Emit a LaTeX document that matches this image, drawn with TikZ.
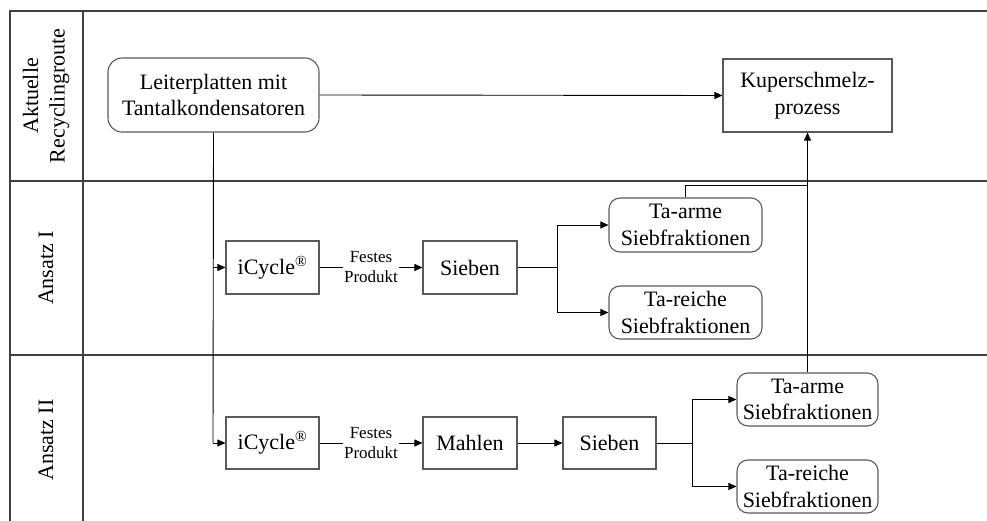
\documentclass[tikz,border=0pt]{standalone}
\usepackage{fontspec}
\setmainfont{Liberation Serif}
\usetikzlibrary{arrows.meta}
\definecolor{boxline}{HTML}{5A5A5A}
\definecolor{laneline}{HTML}{404040}
\tikzset{
  box/.style={draw=boxline, line width=1.1pt, fill=white, inner sep=0pt, align=center,
    font=\fontsize{22}{26.5}\selectfont},
  rbox/.style={box, rounded corners=11pt},
  lane/.style={draw=laneline, line width=1.6pt},
  conn/.style={draw=black, line width=0.9pt},
  arr/.style={conn, -{Triangle[length=8pt,width=7pt]}},
  lanelabel/.style={rotate=90, align=center, font=\fontsize{22}{26.5}\selectfont},
  small/.style={align=center, font=\fontsize{17}{20}\selectfont, fill=white, inner sep=1pt}
}
\begin{document}
\begin{tikzpicture}[x=1pt,y=-1pt]
\useasboundingbox (0,0) rectangle (987,521);
% swimlane frame
\draw[lane] (987,11) -- (10,11) -- (10,521);
\draw[lane] (83,11) -- (83,521);
\draw[lane] (10,181) -- (987,181);
\draw[lane] (10,355) -- (987,355);
% lane labels
\node[lanelabel] (l1) at (46,96) {Aktuelle\\Recyclingroute};
\node[lanelabel] (l2) at (46,268) {Ansatz I};
\node[lanelabel] (l3) at (46,440) {Ansatz II};
% nodes
\node[rbox, minimum width=211pt, minimum height=74pt, rounded corners=14pt] (lp) at (213.5,95) {Leiterplatten mit\\Tantalkondensatoren};
\node[box, minimum width=169pt, minimum height=73pt] (kup) at (807.5,95.5) {Kuperschmelz-\\prozess};
% Ansatz I
\node[box, minimum width=93pt, minimum height=53pt] (ic1) at (272.5,267.5) {iCycle\textsuperscript{®}};
\node[box, minimum width=94pt, minimum height=53pt] (sb1) at (470,267.5) {Sieben};
\node[rbox, minimum width=153pt, minimum height=54pt] (ta1) at (685.5,225) {Ta-arme\\Siebfraktionen};
\node[rbox, minimum width=153pt, minimum height=53pt] (tr1) at (685.5,312.5) {Ta-reiche\\Siebfraktionen};
% Ansatz II
\node[box, minimum width=93pt, minimum height=52pt] (ic2) at (272.5,443) {iCycle\textsuperscript{®}};
\node[box, minimum width=94pt, minimum height=52pt] (mh2) at (470,443) {Mahlen};
\node[box, minimum width=93pt, minimum height=52pt] (sb2) at (609.5,443) {Sieben};
\node[rbox, minimum width=141pt, minimum height=53pt] (ta2) at (807.5,399.5) {Ta-arme\\Siebfraktionen};
\node[rbox, minimum width=141pt, minimum height=53pt] (tr2) at (807.5,486.5) {Ta-reiche\\Siebfraktionen};
% helper coordinates
\coordinate (split1) at (557,267.5);
\coordinate (split2) at (692,443);
\coordinate (join) at (808,185);
% connectors
\draw[arr] (lp.east) -- (kup.west);
\draw[conn] (lp.south) -- (213,443);
\draw[arr] (213,267.5) -- (ic1.west);
\draw[arr] (213,443) -- (ic2.west);
\draw[arr] (ic1.east) -- node[small] (fp1) {Festes\\Produkt} (sb1.west);
\draw[arr] (ic2.east) -- node[small] (fp2) {Festes\\Produkt} (mh2.west);
\draw[arr] (mh2.east) -- (sb2.west);
\draw[conn] (sb1.east) -- (split1);
\draw[arr] (split1) |- (ta1.west);
\draw[arr] (split1) |- (tr1.west);
\draw[conn] (sb2.east) -- (split2);
\draw[arr] (split2) |- (ta2.west);
\draw[arr] (split2) |- (tr2.west);
\draw[arr] (ta2.north) -- (kup.south);
\draw[conn] (ta1.north) |- (join);
\end{tikzpicture}
\end{document}
